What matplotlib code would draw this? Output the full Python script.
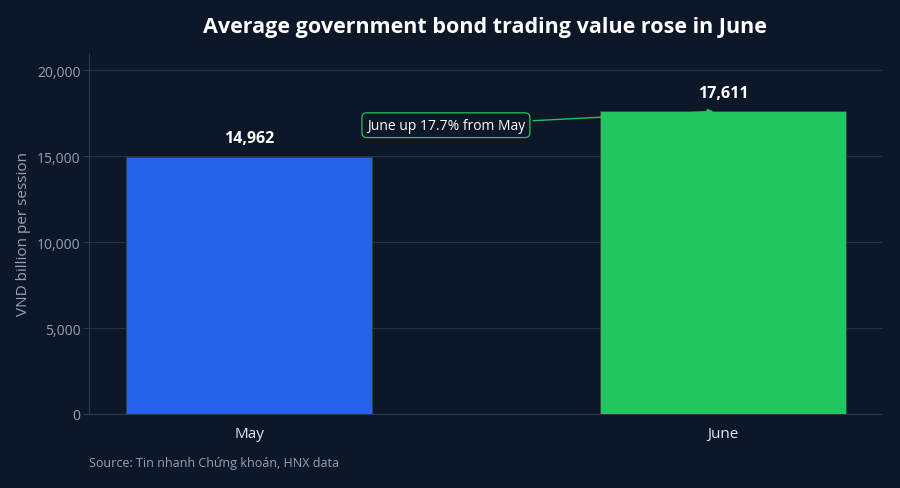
import numpy as np
import matplotlib.pyplot as plt

months = ['May', 'June']
values = [14962, 17611]
bar_colors = ['#2563eb', '#22c55e']
note = 'June up 17.7% from May'

bg = '#0c1728'
plt.rcParams['font.family'] = ['Open Sans', 'DejaVu Sans']

fig = plt.figure(figsize=(9, 4.89), dpi=100, facecolor=bg)
ax = fig.add_axes([89/900, 1-415/489, (882-89)/900, (415-54)/489], facecolor=bg)

x = np.arange(len(months))
bars = ax.bar(x, values, width=0.52, color=bar_colors, edgecolor='#334155', linewidth=0.6, zorder=3)

for xi, v in zip(x, values):
    ax.text(xi, v + 600, f'{v:,}', ha='center', va='bottom', color='white',
            fontsize=11.5, fontweight='bold')

ax.annotate(note, xy=(0.985, values[1]), xytext=(0.415, 16800),
            ha='center', va='center', color='white', fontsize=10,
            bbox=dict(boxstyle='round,pad=0.35', fc=bg, ec='#22c55e', lw=0.9),
            arrowprops=dict(arrowstyle='-|>', color='#22c55e', lw=1.0, mutation_scale=8),
            zorder=5)

ax.set_ylim(0, 21000)
ax.set_xlim(-0.338, 1.335)
ax.set_yticks([0, 5000, 10000, 15000, 20000])
ax.yaxis.set_major_formatter(plt.FuncFormatter(lambda v, p: f'{int(v):,}'))
ax.set_xticks(x)
ax.set_xticklabels(months)

ax.grid(axis='y', color='#253245', linewidth=0.8, zorder=0)
for s in ['top', 'right']:
    ax.spines[s].set_visible(False)
for s in ['left', 'bottom']:
    ax.spines[s].set_color('#2b3a4f')
    ax.spines[s].set_linewidth(0.8)
ax.tick_params(axis='y', colors='#2b3a4f', labelcolor='#94a3b8', labelsize=10, length=4, pad=2)
ax.tick_params(axis='x', colors='#2b3a4f', labelcolor='#e2e8f0', labelsize=11, length=0, pad=9)
ax.set_ylabel('VND billion per session', color='#94a3b8', fontsize=11, labelpad=4)

fig.text(485/900, 1-27/489, 'Average government bond trading value rose in June',
         ha='center', va='center', color='white', fontsize=15.5, fontweight='bold')
fig.text(89/900, 1-464/489, 'Source: Tin nhanh Chứng khoán, HNX data',
         ha='left', va='center', color='#94a3b8', fontsize=9)

fig.savefig('out.png', dpi=100, facecolor=bg)
